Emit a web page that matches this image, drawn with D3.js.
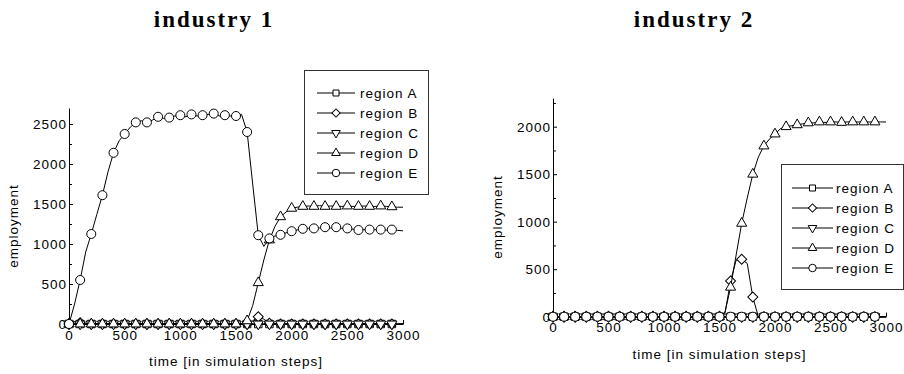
<!DOCTYPE html>
<html><head><meta charset="utf-8">
<script src="https://cdn.jsdelivr.net/npm/d3@7"></script>
<style>
body{margin:0;background:#fff}
svg{display:block}
text{font-family:"Liberation Sans",Arial,Helvetica,sans-serif;fill:#000}
</style>
</head><body>
<svg id="c" width="904" height="374"></svg>
<script>
// ---------------- data ----------------
const steps = [0,50,100,150,200,250,300,350,400,450,500,550,600,650,700,750,800,850,900,950,
  1000,1050,1100,1150,1200,1250,1300,1350,1400,1450,1500,1550,1600,1650,1700,1750,1800,1850,1900,1950,
  2000,2050,2100,2150,2200,2250,2300,2350,2400,2450,2500,2550,2600,2650,2700,2750,2800,2850,2900,2950,3000];

const seriesNames = ["region A","region B","region C","region D","region E"];
const panelTitles = ["industry 1","industry 2"];
const xLabel = "time [in simulation steps]";
const yLabel = "employment";
const xTicks = [0,500,1000,1500,2000,2500,3000];
const yTicks1 = [0,500,1000,1500,2000,2500];
const yMinor1 = [250,750,1250,1750,2250];
const yTicks2 = [0,500,1000,1500,2000];
const yMinor2 = [250,750,1250,1750,2250];

// industry 1
const ind1A = [0,0,0,0,0,0,0,0,0,0,0,0,0,0,0,0,0,0,0,0,0,0,0,0,0,0,0,0,0,0,0,0,0,0,0,0,0,0,0,0,0,0,0,0,0,0,0,0,0,0,0,0,0,0,0,0,0,0,0,0,0];
const ind1B = [0,30,15,0,0,0,0,0,0,0,0,0,0,0,0,0,0,0,0,0,0,0,0,0,0,0,0,0,0,0,0,0,0,40,90,60,10,0,0,0,0,0,0,0,0,0,0,0,0,0,0,0,0,0,0,0,0,0,0,0,0];
const ind1C = [0,0,0,0,0,0,0,0,0,0,0,0,0,0,0,0,0,0,0,0,0,0,0,0,0,0,0,0,0,0,0,0,0,0,0,0,0,0,0,0,0,0,0,0,0,0,0,0,0,0,0,0,0,0,0,0,0,0,0,0,0];
const ind1D = [0,0,0,0,0,0,0,0,0,0,0,0,0,0,0,0,0,0,0,0,0,0,0,0,0,0,0,0,0,0,0,0,40,230,516,800,1050,1220,1340,1400,
  1446,1460,1470,1475,1470,1480,1470,1475,1470,1470,1475,1470,1470,1475,1470,1470,1475,1470,1465,1460,1460];
const ind1E = [0,250,550,900,1125,1370,1610,1900,2140,2290,2375,2460,2520,2540,2520,2550,2590,2570,2580,2600,
  2610,2590,2620,2600,2610,2620,2630,2600,2610,2600,2600,2620,2400,1750,1110,970,1070,1100,1115,1140,
  1160,1175,1190,1195,1195,1200,1210,1200,1210,1195,1195,1185,1175,1180,1180,1180,1180,1175,1180,1170,1165];

// industry 2
const ind2A = [0,0,0,0,0,0,0,0,0,0,0,0,0,0,0,0,0,0,0,0,0,0,0,0,0,0,0,0,0,0,0,0,0,0,0,0,0,0,0,0,0,0,0,0,0,0,0,0,0,0,0,0,0,0,0,0,0,0,0,0,0];
const ind2B = [0,0,0,0,0,0,0,0,0,0,0,0,0,0,0,0,0,0,0,0,0,0,0,0,0,0,0,0,0,0,0,40,376,595,604,560,207,0,0,0,0,0,0,0,0,0,0,0,0,0,0,0,0,0,0,0,0,0,0,0,0];
const ind2C = [0,0,0,0,0,0,0,0,0,0,0,0,0,0,0,0,0,0,0,0,0,0,0,0,0,0,0,0,0,0,0,0,0,0,0,0,0,0,0,0,0,0,0,0,0,0,0,0,0,0,0,0,0,0,0,0,0,0,0,0,0];
const ind2D = [0,0,0,0,0,0,0,0,0,0,0,0,0,0,0,0,0,0,0,0,0,0,0,0,0,0,0,0,0,0,0,50,310,650,983,1250,1500,1680,1797,1870,
  1923,1980,2000,2010,2020,2030,2040,2040,2050,2045,2050,2050,2045,2050,2050,2050,2050,2050,2050,2050,2050];
const ind2E = [0,0,0,0,0,0,0,0,0,0,0,0,0,0,0,0,0,0,0,0,0,0,0,0,0,0,0,0,0,0,0,0,0,0,0,0,0,0,0,0,0,0,0,0,0,0,0,0,0,0,0,0,0,0,0,0,0,0,0,0,0];

// ---------------- layout ----------------
const panels = [
  {title: panelTitles[0], series:[ind1A,ind1B,ind1C,ind1D,ind1E], yMax:2700, yTicks:yTicks1, yMinor:yMinor1,
   left:69, right:403, bottom:324, top:108, titleX:214,
   legend:{x:304, y:70, w:124, h:124, lx0:317, lx1:355, tx:360, ry0:93}, ylabX:13, ylabY:226},
  {title: panelTitles[1], series:[ind2A,ind2B,ind2C,ind2D,ind2E], yMax:2300, yTicks:yTicks2, yMinor:yMinor2,
   left:553, right:886, bottom:316.7, top:98.2, titleX:694,
   legend:{x:781, y:164, w:122, h:125, lx0:792, lx1:833, tx:836, ry0:188}, ylabX:497, ylabY:217}
];

const svg = d3.select("#c");
const FONT = "13.5px";
const LS = "1px";
const fmt = d3.format("d");

const symTypes = [d3.symbolSquare, d3.symbolSquare, d3.symbolTriangle, d3.symbolTriangle, d3.symbolCircle];
const symRot = [0, 45, 180, 0, 0];
const plotSizes = [56, 50, 44, 44, 64];
const legSizes = [36, 34, 32, 32, 44];

function drawSymbol(g, i, x, y, size){
  g.append("path")
    .attr("d", d3.symbol().type(symTypes[i]).size(size)())
    .attr("transform", `translate(${x},${y}) rotate(${symRot[i]})`)
    .attr("fill", "#fff").attr("stroke", "#000").attr("stroke-width", 1);
}

panels.forEach(p => {
  const x = d3.scaleLinear().domain([0, 3000]).range([p.left, p.right]);
  const y = d3.scaleLinear().domain([0, p.yMax]).range([p.bottom, p.top]);
  const g = svg.append("g");

  // title
  g.append("text").attr("x", p.titleX).attr("y", 27)
    .attr("text-anchor", "middle")
    .style("font-family", "'Liberation Serif','Times New Roman',serif")
    .style("font-weight", "bold").style("font-size", "23px").style("letter-spacing", "2px")
    .text(p.title);

  // x axis
  const xa = g.append("g").attr("transform", `translate(0,${p.bottom})`)
    .call(d3.axisBottom(x).tickValues(xTicks).tickFormat(fmt).tickSizeInner(-4).tickSizeOuter(0).tickPadding(6));
  // y axis
  const ya = g.append("g").attr("transform", `translate(${p.left},0)`)
    .call(d3.axisLeft(y).tickValues(p.yTicks).tickFormat(fmt).tickSizeInner(-4).tickSizeOuter(0).tickPadding(2));
  g.append("g").attr("transform", `translate(${p.left},0)`)
    .call(d3.axisLeft(y).tickValues(p.yMinor).tickSizeInner(-3).tickSizeOuter(0).tickFormat(""))
    .select(".domain").remove();
  [xa, ya].forEach(a => {
    a.selectAll("text").style("font-size", FONT).style("letter-spacing", LS)
      .style("font-family", "'Liberation Sans',Arial,sans-serif");
  });
  g.selectAll(".domain, .tick line").attr("stroke", "#000");

  // axis labels
  g.append("text").attr("x", (p.left + p.right) / 2).attr("y", p.bottom + 42)
    .attr("text-anchor", "middle").style("font-size", FONT).style("letter-spacing", LS).text(xLabel);
  g.append("text").attr("transform", `translate(${p.ylabX + 5},${p.ylabY}) rotate(-90)`)
    .attr("text-anchor", "middle").style("font-size", FONT).style("letter-spacing", LS).text(yLabel);

  // series
  const line = d3.line().x((d, i) => x(steps[i])).y(d => y(d));
  p.series.forEach((vals, si) => {
    const sg = g.append("g");
    sg.append("path").datum(vals).attr("d", line)
      .attr("fill", "none").attr("stroke", "#000").attr("stroke-width", 1);
    vals.forEach((v, i) => {
      const t = steps[i];
      if (t % 100 === 0 && t < 3000) drawSymbol(sg, si, x(t), y(v), plotSizes[si]);
    });
  });

  // legend
  const L = p.legend;
  const lg = g.append("g");
  lg.append("rect").attr("x", L.x + 0.5).attr("y", L.y + 0.5).attr("width", L.w).attr("height", L.h)
    .attr("fill", "#fff").attr("stroke", "#333").attr("stroke-width", 1);
  seriesNames.forEach((name, i) => {
    const yy = L.ry0 + i * 20;
    lg.append("line").attr("x1", L.lx0).attr("x2", L.lx1).attr("y1", yy).attr("y2", yy)
      .attr("stroke", "#000").attr("stroke-width", 1);
    drawSymbol(lg, i, (L.lx0 + L.lx1) / 2, yy, legSizes[i]);
    lg.append("text").attr("x", L.tx).attr("y", yy).attr("dy", "0.35em")
      .style("font-size", FONT).style("letter-spacing", LS).text(name);
  });
});
</script>
</body></html>
